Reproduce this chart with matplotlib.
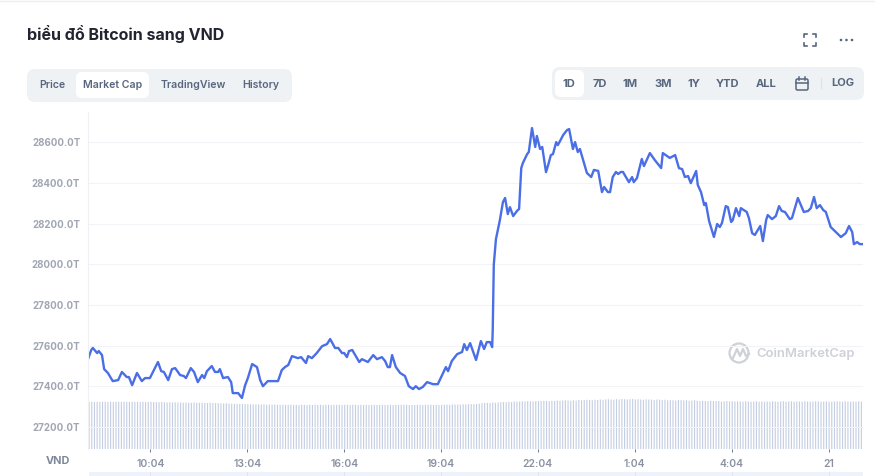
import numpy as np
import matplotlib
matplotlib.use("Agg")
import matplotlib.pyplot as plt
from matplotlib.patches import FancyBboxPatch, Rectangle, Circle

plt.rcParams["font.family"] = ["Inter", "Noto Sans", "DejaVu Sans"]

W, H = 875, 476

# market cap in T VND, minutes since the left edge of the chart (08:08)
minutes = [0, 6, 9, 17, 20, 26, 30, 37, 46, 56, 63, 72, 76, 82, 91, 100, 106, 115,
           130, 136, 141, 149, 156, 162, 171, 178, 182, 191, 197, 204, 212, 216, 221,
           230, 236, 242, 245, 251, 260, 266, 269, 279, 286, 292, 297, 305, 314, 320,
           325, 334, 353, 360, 366, 372, 379, 390, 396, 405, 409, 416, 425, 435, 444,
           450, 459, 465, 472, 476, 481, 485, 491, 504, 509, 520, 530, 537, 546, 552,
           557, 561, 565, 572, 580, 589, 596, 604, 609, 615, 622, 630, 641, 650, 658,
           665, 669, 676, 686, 695, 699, 704, 710, 721, 730, 736, 741, 747, 751, 752, 754,
           758, 765, 771, 775, 780, 784, 790, 797, 801, 805, 808, 816, 819, 825, 831,
           834, 840, 844, 851, 855, 860, 864, 870, 873, 883, 890, 894, 901, 905, 910,
           914, 920, 927, 935, 940, 948, 955, 959, 966, 970, 975, 981, 985, 990, 994,
           1005, 1011, 1014, 1020, 1029, 1033, 1044, 1053, 1065, 1068, 1081, 1091,
           1098, 1104, 1109, 1115, 1120, 1130, 1133, 1139, 1145, 1148, 1154, 1163,
           1169, 1174, 1178, 1185, 1189, 1195, 1198, 1204, 1210, 1213, 1224, 1228,
           1234, 1239, 1249, 1254, 1260, 1263, 1271, 1278, 1284, 1289, 1295, 1304,
           1308, 1319, 1330, 1338, 1343, 1349, 1354, 1360, 1366, 1371, 1380, 1399,
           1408, 1414, 1420, 1423, 1429, 1434, 1438]
market_cap = [27534, 27579, 27589, 27564, 27574, 27554, 27485, 27466, 27426, 27431,
              27471, 27446, 27446, 27406, 27466, 27426, 27441, 27441,
              27520, 27475, 27471, 27431, 27485, 27490, 27456, 27451, 27441, 27490,
              27471, 27421, 27456, 27441, 27475, 27500, 27471, 27471, 27485, 27441,
              27446, 27421, 27367, 27367, 27343, 27406, 27441, 27510, 27495, 27431,
              27401, 27426, 27426, 27480, 27495, 27505, 27549, 27539, 27544, 27515,
              27549, 27539, 27564, 27598, 27608, 27633, 27589, 27589, 27564, 27564,
              27544, 27574, 27579, 27520, 27534, 27520, 27554, 27534, 27544, 27525,
              27495, 27495, 27554, 27495, 27466, 27451, 27401, 27387, 27401, 27387,
              27397, 27421, 27411, 27411, 27456, 27495, 27475, 27525, 27559, 27569,
              27608, 27579, 27613, 27530, 27623, 27584, 27618, 27618, 27593, 27677, 28000,
              28125, 28214, 28307, 28327, 28248, 28282, 28238, 28263, 28273, 28474,
              28499, 28543, 28553, 28671, 28578, 28632, 28568, 28578, 28454, 28489,
              28538, 28543, 28602, 28587, 28637, 28661, 28666, 28568, 28602, 28553,
              28568, 28514, 28450, 28430, 28465, 28460, 28356, 28381, 28356, 28356,
              28430, 28455, 28445, 28455, 28455, 28405, 28430, 28405, 28425, 28519,
              28484, 28548, 28514, 28474, 28548, 28524, 28538, 28474, 28469, 28430,
              28435, 28400, 28460, 28391, 28356, 28292, 28302, 28214, 28135, 28199,
              28184, 28204, 28287, 28282, 28209, 28218, 28277, 28238, 28277, 28258,
              28228, 28154, 28145, 28189, 28115, 28218, 28243, 28223, 28238, 28287,
              28263, 28258, 28223, 28228, 28327, 28258, 28263, 28277, 28332, 28277,
              28292, 28268, 28258, 28184, 28135, 28154, 28189, 28159, 28100, 28110,
              28100, 28100]

# volume per 5 minute bar, T VND
volumes = [
    940, 945, 940, 945, 940, 945, 945, 940, 945, 940, 945, 945,
    940, 945, 945, 940, 945, 940, 945, 940, 945, 940, 940, 945,
    940, 935, 935, 940, 935, 930, 935, 930, 935, 930, 930, 925,
    930, 925, 925, 930, 925, 925, 925, 920, 920, 925, 920, 915,
    915, 915, 910, 915, 910, 905, 905, 905, 900, 900, 900, 895,
    895, 890, 895, 890, 890, 895, 885, 890, 885, 890, 885, 885,
    885, 880, 885, 885, 880, 885, 880, 885, 885, 880, 885, 880,
    885, 880, 885, 880, 885, 885, 880, 885, 885, 885, 880, 885,
    885, 880, 885, 885, 880, 885, 880, 885, 880, 885, 885, 880,
    880, 885, 880, 885, 885, 880, 885, 880, 885, 885, 885, 880,
    885, 880, 885, 885, 880, 885, 885, 885, 880, 885, 880, 885,
    885, 890, 885, 890, 890, 890, 885, 895, 890, 895, 900, 895,
    900, 905, 915, 920, 925, 920, 930, 925, 930, 935, 940, 935,
    945, 940, 950, 945, 950, 955, 950, 960, 955, 950, 960, 955,
    960, 965, 960, 955, 965, 960, 970, 965, 970, 975, 970, 965,
    975, 970, 980, 975, 980, 985, 980, 975, 985, 980, 990, 985,
    990, 995, 990, 985, 995, 990, 1000, 995, 990, 995, 1000, 990,
    995, 990, 985, 995, 990, 985, 980, 990, 985, 980, 985, 975,
    980, 975, 970, 980, 975, 970, 975, 965, 970, 975, 965, 960,
    965, 960, 955, 965, 960, 955, 960, 950, 955, 960, 950, 955,
    950, 955, 950, 945, 955, 950, 945, 950, 955, 945, 950, 945,
    950, 945, 955, 950, 945, 950, 955, 945, 950, 955, 945, 950,
    950, 945, 955, 950, 945, 950, 955, 950, 945, 950, 955, 945,
    945, 950, 955, 950, 945, 955, 950, 945, 950, 945, 955, 950,
]

y_ticks = [27200, 27400, 27600, 27800, 28000, 28200, 28400, 28600]
x_ticks = [116, 296, 476, 656, 836, 1016, 1196, 1376]
x_labels = ["10:04", "13:04", "16:04", "19:04", "22:04", "1:04", "4:04", "21"]
tabs = ["Price", "Market Cap", "TradingView", "History"]
ranges = ["1D", "7D", "1M", "3M", "1Y", "YTD", "ALL"]

fig = plt.figure(figsize=(W / 100, H / 100), dpi=100)

# page furniture lives in a pixel coordinate overlay
ui = fig.add_axes([0, 0, 1, 1], zorder=0)
ui.set_xlim(0, W); ui.set_ylim(H, 0); ui.axis("off")

# bars behind the line, on their own hidden scale
left, right, top, bottom = 88, 863, 112, 449
pos = [left / W, 1 - bottom / H, (right - left) / W, (bottom - top) / H]
axv = fig.add_axes(pos, zorder=1)
axv.patch.set_alpha(0)
bars = axv.bar(np.arange(len(volumes)) * 5 + 2, volumes, width=2.1, color="#c4cee2", lw=0)
for b in bars:
    b.set_snap(False)
axv.set_xlim(0, 1440); axv.set_ylim(0, 6740)
axv.axis("off")

ax = fig.add_axes(pos, zorder=2)
ax.patch.set_alpha(0)
ax.plot(minutes, market_cap, color="#4a6ee6", lw=1.7, solid_joinstyle="round")
ax.set_xlim(0, 1440)
ax.set_ylim(27092, 28750)
ax.set_yticks(y_ticks)
ax.set_yticklabels([f"{v:.1f}T" for v in y_ticks])
ax.set_xticks(x_ticks)
ax.set_xticklabels(x_labels)
ax.grid(axis="y", color="#f1f3f6", lw=0.8)
ax.set_axisbelow(True)
for s in ["top", "right", "bottom"]:
    ax.spines[s].set_visible(False)
ax.spines["left"].set_color("#eef0f4")
ax.spines["left"].set_linewidth(0.8)
ax.tick_params(axis="y", length=0, pad=5.5, labelsize=7.0, labelcolor="#a0a6b3")
ax.tick_params(axis="x", length=2.5, width=0.7, color="#6f7888", pad=5,
               labelsize=7.5, labelcolor="#8a92a2")
for lab in ax.get_yticklabels():
    lab.set_fontweight("bold")
for lab in ax.get_xticklabels():
    lab.set_fontweight("semibold")

ui.text(58, 461, "VND", ha="center", va="center", fontsize=7.8, fontweight="bold", color="#7d8699")

# navigator strip under the chart
ui.add_patch(Rectangle((89, 472), 774, 4, color="#eef2fb", lw=0))
for t in x_ticks:
    ui.plot([left + t * 775 / 1440] * 2, [472, 476], color="#dfe5f3", lw=0.7)

ui.plot([0, W], [0.5, 0.5], color="#eceef1", lw=1)
ui.text(27, 34, "biểu đồ Bitcoin sang VND", ha="left", va="center",
        fontsize=11.55, fontweight="bold", color="#222531")


def pill(x0, y0, x1, y1, color, r=6):
    ui.add_patch(FancyBboxPatch((x0, y0), x1 - x0, y1 - y0, facecolor=color, edgecolor="none",
                                boxstyle=f"round,pad=0,rounding_size={r}"))


# left tab group
pill(27, 69, 292, 102, "#eff2f5", 8)
pill(76, 72, 149, 98, "white", 6)
for name, cx in zip(tabs, [52, 113, 193, 261]):
    ui.text(cx, 85.5, name, ha="center", va="center", fontsize=7.6, fontweight="semibold", color="#58667e")

# right range group
pill(552, 67, 864, 100, "#eff2f5", 8)
pill(555, 70, 584, 97, "white", 6)
for name, cx in zip(ranges, [569, 599.5, 630.5, 663, 693.5, 728, 766]):
    ui.text(cx, 84, name, ha="center", va="center", fontsize=8, fontweight="bold", color="#58667e")
ui.text(843, 83, "LOG", ha="center", va="center", fontsize=8, fontweight="bold", color="#58667e")
ui.plot([820.5, 820.5], [78, 88], color="#dde1e7", lw=0.8)

# calendar icon
ui.add_patch(FancyBboxPatch((796, 79), 12, 11, facecolor="none", edgecolor="#58667e", lw=1.1,
                            boxstyle="round,pad=0,rounding_size=1.5"))
ui.plot([796, 808], [83, 83], color="#58667e", lw=1.1)
ui.plot([799, 799], [77, 80], color="#58667e", lw=1.1)
ui.plot([805, 805], [77, 80], color="#58667e", lw=1.1)

# fullscreen and menu icons
for cx, sx in [(804, 1), (816, -1)]:
    for cy, sy in [(34, 1), (46, -1)]:
        ui.plot([cx + sx * 3, cx, cx], [cy, cy, cy + sy * 3], color="#58667e", lw=1.2)
for cx in [841, 846.5, 852]:
    ui.add_patch(Circle((cx, 40), 1.3, color="#58667e", lw=0))

# watermark
ui.add_patch(Circle((739, 353), 9.5, facecolor="none", edgecolor="#ced1d6", lw=1.6, zorder=3))
ui.plot([733, 737, 740, 743, 746, 749], [358, 349, 356, 349, 356, 354], color="#ced1d6", lw=1.6, zorder=3)
ui.text(806, 354, "CoinMarketCap", ha="center", va="center", fontsize=9.4, fontweight="semibold",
        color="#ced1d6", zorder=3)

fig.savefig("out.png", dpi=100)
